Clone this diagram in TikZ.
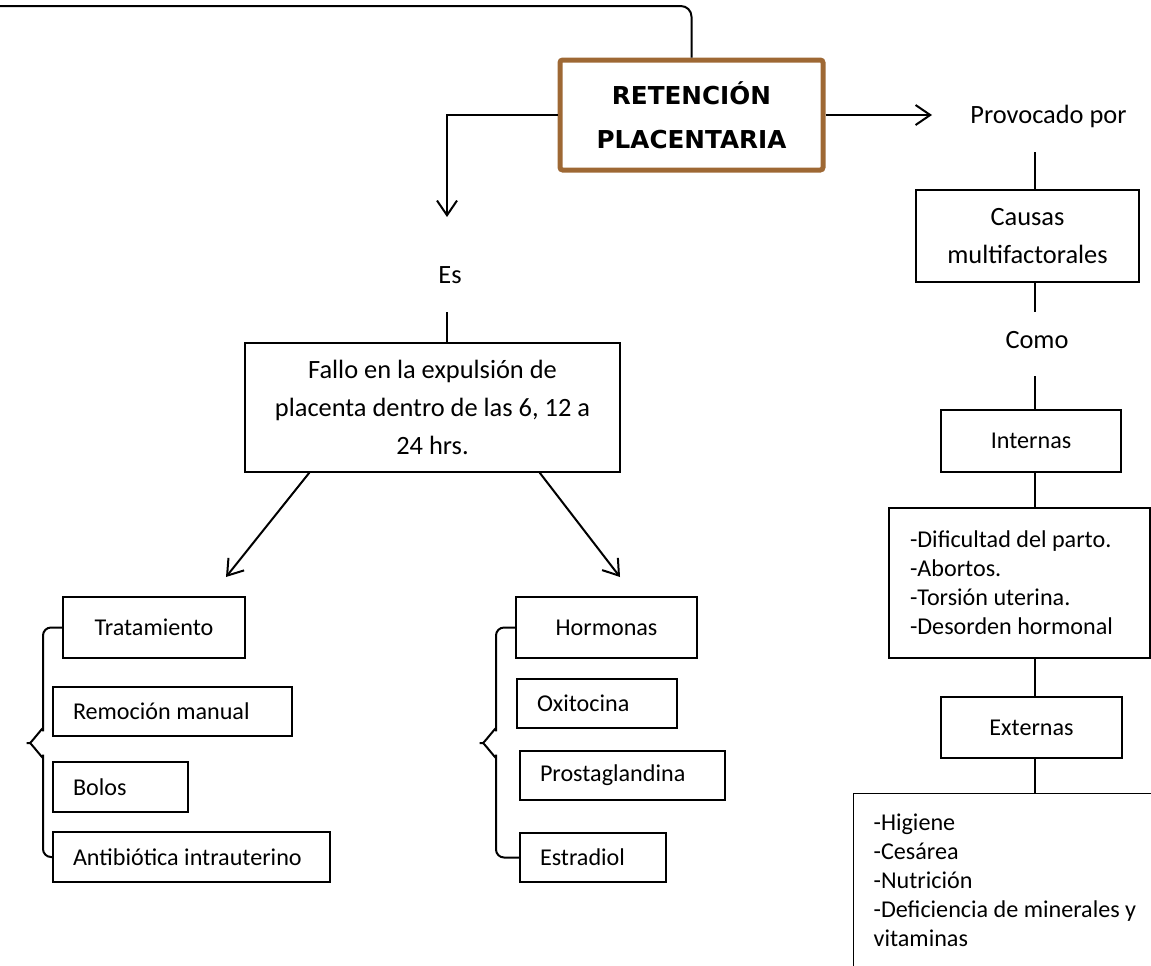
\documentclass[tikz,border=0pt]{standalone}
\usepackage{fontspec}
\setmainfont{Carlito}
\newfontfamily\titlefont{DejaVu Sans}
\usetikzlibrary{arrows.meta}

\tikzset{every picture/.style={line width=0.75pt}}
\tikzset{
  grande/.style={font=\fontsize{19.8}{28.5}\selectfont},
  chica/.style={font=\fontsize{18.1}{21.75}\selectfont},
  caja/.style={draw, line width=1pt, chica, align=center, inner sep=0pt},
  cajaizq/.style={caja, align=flush left, inner xsep=15pt, inner ysep=0pt, text width=#1},
  flecha/.style={line width=1.5pt, -{Straight Barb[length=11pt,width=15pt,line width=1.5pt]}},
  linea/.style={line width=1.5pt},
  llave/.style={line width=1.5pt, rounded corners=6pt}
}

\begin{document}
\begin{tikzpicture}[x=0.75pt,y=0.75pt,yscale=-1,xscale=1]
\useasboundingbox (0,0) rectangle (1151,965);

%Shape: Rectangle [titulo]
\node (titulo) at (691.5,115) [draw={rgb, 255:red, 158; green, 104; blue, 52}, line width=3.75pt, rounded corners=2pt, minimum width=197.25pt, minimum height=82.5pt, align=center, font=\titlefont\bfseries\fontsize{18.5}{33}\selectfont] {RETENCIÓN\\PLACENTARIA};

% Text Node
\node (es) at (450,283) [anchor=base, grande, inner sep=0pt] {Es};
% Text Node
\node (prov) at (1048.5,123) [anchor=base, grande, inner sep=0pt] {Provocado por};
% Text Node
\node (como) at (1037,348) [anchor=base, grande, inner sep=0pt] {Como};

%Shape: Rectangle
\node (fallo) at (432.5,407.5) [caja, grande, minimum width=281.25pt, minimum height=96.75pt] {Fallo en la expulsión de\\placenta dentro de las 6, 12 a\\24 hrs.};
%Shape: Rectangle
\node (causas) at (1027.5,236) [caja, grande, minimum width=167.25pt, minimum height=69pt] {Causas\\multifactorales};
%Shape: Rectangle
\node (internas) at (1031,441) [caja, minimum width=135pt, minimum height=46.5pt] {Internas};
%Shape: Rectangle
\node (dif) at (1019.5,583) [cajaizq=164.25pt, inner xsep=15.75pt, minimum height=112.5pt] {-Dificultad del parto.\\-Abortos.\\-Torsión uterina.\\-Desorden hormonal};
%Shape: Rectangle
\node (externas) at (1031.5,727.5) [caja, minimum width=135.75pt, minimum height=45.75pt] {Externas};
%Shape: Rectangle
\node (extlist) at (853,793) [anchor=north west, cajaizq=215pt, minimum height=130.5pt] {-Higiene\\-Cesárea\\-Nutrición\\-Deficiencia de minerales y\\vitaminas};

%Shape: Rectangle (tratamiento)
\node (trat) at (154,627.5) [caja, minimum width=136.5pt, minimum height=45.75pt] {Tratamiento};
\node (remo) at (172.5,711.5) [cajaizq=149.25pt, minimum height=36.75pt] {Remoción manual};
\node (bolos) at (120.5,787) [cajaizq=71.25pt, minimum height=37.5pt] {Bolos};
\node (antib) at (191.5,857) [cajaizq=177.75pt, minimum height=37.5pt] {Antibiótica intrauterino};

%Shape: Rectangle (hormonas)
\node (horm) at (606.5,627.5) [caja, minimum width=135.75pt, minimum height=45.75pt] {Hormonas};
\node (oxi) at (597,703.5) [cajaizq=90pt, minimum height=36.75pt] {Oxitocina};
\node (prost) at (622.5,775.5) [cajaizq=123.75pt, minimum height=36.75pt] {Prostaglandina};
\node (estr) at (593,857.5) [cajaizq=79.5pt, minimum height=36.75pt] {Estradiol};

% free ends
\coordinate (tope) at (0,6);
\coordinate (esin) at (447,217);
\coordinate (esout) at (447,312);
\coordinate (provin) at (932,115);
\coordinate (eje) at (1034.5,0);
\coordinate (provout) at (1034.5,152);
\coordinate (comoin) at (1034.5,312);
\coordinate (comoout) at (1034.5,376);
\coordinate (tratin) at (226,577);
\coordinate (hormin) at (620,577);

%Straight Lines
\draw [linea, rounded corners=8pt] (titulo.north) |- (tope);
\draw [flecha] (titulo.west) -| (esin);
\draw [linea] (esout) -- (esout |- fallo.north);
\draw [flecha] (titulo.east) -- (provin);

\draw [linea] (provout) -- (provout |- causas.north);
\draw [linea] (causas.south -| eje) -- (comoin);
\draw [linea] (comoout) -- (comoout |- internas.north);
\draw [linea] (internas.south -| eje) -- (dif.north -| eje);
\draw [linea] (dif.south -| eje) -- (externas.north -| eje);
\draw [linea] (externas.south -| eje) -- (extlist.north -| eje);

\draw [flecha] ([xshift=48.75pt]fallo.south west) -- (tratin);
\draw [flecha] ([xshift=-60.75pt]fallo.south east) -- (hormin);

%Shape: Brace
\coordinate (barA1) at (43,736);
\coordinate (puntaA) at (22,743);
\coordinate (barA2) at (43,750);
\draw [llave] (trat.west) -| (barA1) to[out=-90,in=0] (puntaA) to[out=0,in=90] (barA2) |- (antib.west);
%Shape: Brace
\coordinate (barB1) at (496,736);
\coordinate (puntaB) at (475,743);
\coordinate (barB2) at (496,750);
\draw [llave] (horm.west) -| (barB1) to[out=-90,in=0] (puntaB) to[out=0,in=90] (barB2) |- (estr.west);

\end{tikzpicture}
\end{document}
